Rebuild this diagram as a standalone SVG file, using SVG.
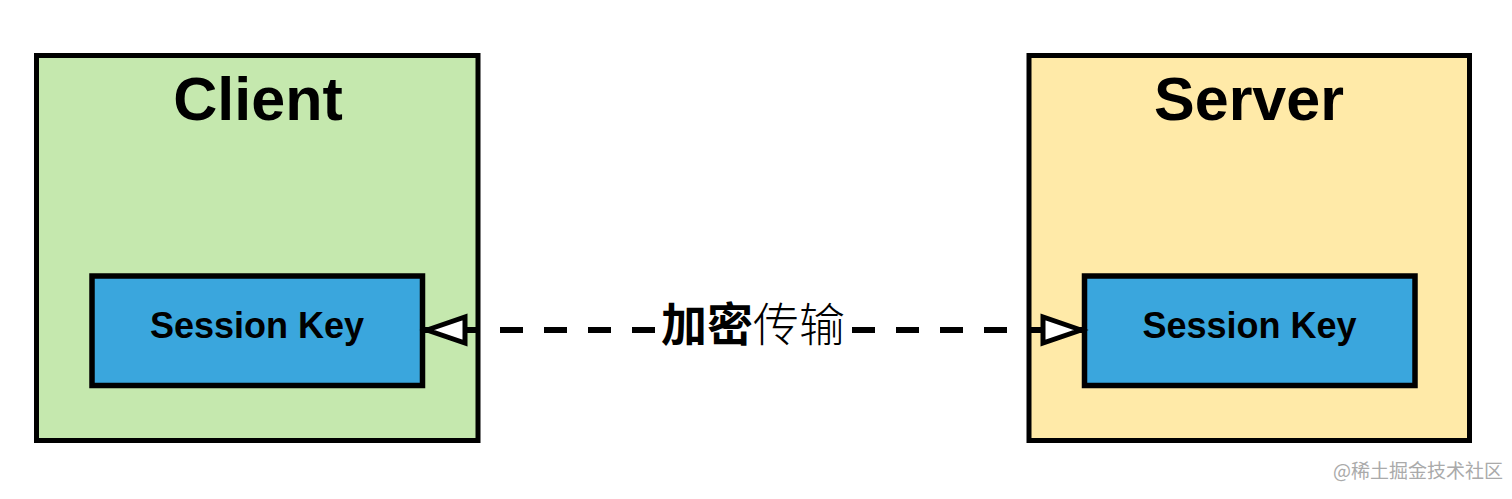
<svg xmlns="http://www.w3.org/2000/svg" width="1512" height="499" viewBox="0 0 1512 499">
  <defs>
    <style>
      .outer { stroke: #000; stroke-width: 5; }
      .inner { fill: #3aa6dd; stroke: #000; stroke-width: 5.5; }
      .title { font-family: "Liberation Sans", Arial, sans-serif; font-weight: bold; font-size: 61px; text-anchor: middle; fill: #000; }
      .key { font-family: "Liberation Sans", Arial, sans-serif; font-weight: bold; font-size: 36px; text-anchor: middle; fill: #000; }
      .edge { stroke: #000; stroke-width: 6; fill: none; stroke-dasharray: 23 21; stroke-dashoffset: 12; }
      .head { fill: #fff; stroke: #000; stroke-width: 5; stroke-linejoin: miter; }
      .label { font-family: "Noto Sans CJK SC", sans-serif; font-size: 46px; fill: #000; }
      .wm { font-family: "Noto Sans CJK SC", sans-serif; font-size: 19px; fill: #aaa; }
    </style>
  </defs>
  <rect width="1512" height="499" fill="#fff"/>
  <g id="client">
    <rect class="outer" x="36.5" y="55.5" width="441.5" height="385" fill="#c5e8ae"/>
    <text class="title" x="258" y="120">Client</text>
  </g>
  <g id="server">
    <rect class="outer" x="1029" y="55.5" width="440.5" height="385" fill="#ffeaa8"/>
    <text class="title" x="1249" y="120">Server</text>
  </g>
  <g id="client-key">
    <rect class="inner" x="92" y="276" width="330.5" height="109.5"/>
    <text class="key" x="257" y="338">Session Key</text>
  </g>
  <g id="server-key">
    <rect class="inner" x="1084.5" y="276" width="330.5" height="109.5"/>
    <text class="key" x="1249.5" y="338">Session Key</text>
  </g>
  <g id="connectors">
    <line class="edge" x1="424" y1="330" x2="1083" y2="330"/>
    <rect x="656" y="300" width="194" height="50" fill="#fff"/>
    <polygon class="head" points="427,330 465,317 465,343"/>
    <polygon class="head" points="1081,330 1043,317 1043,343"/>
    <text class="label" x="753" y="341" text-anchor="middle"><tspan font-weight="bold">加密</tspan><tspan font-weight="300">传输</tspan></text>
  </g>
  <text class="wm" x="1333" y="478">@稀土掘金技术社区</text>
</svg>
